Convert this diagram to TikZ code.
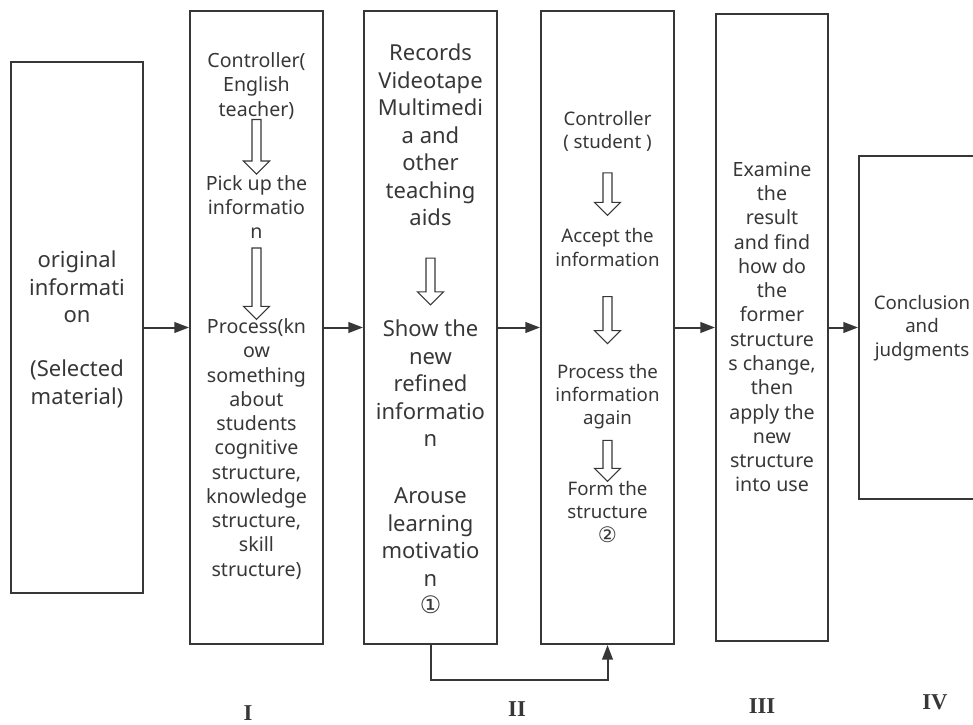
\documentclass[tikz,border=0pt]{standalone}
\usepackage{fontspec}
\setmainfont{Noto Sans}
\newfontfamily\numfont{Liberation Serif}
\newfontfamily\symfont{DejaVu Sans}
\usetikzlibrary{arrows.meta, calc, fit}

\definecolor{ink}{RGB}{55, 55, 55}

\tikzset{
	box/.style = {draw = ink, line width = 1.5pt, inner sep = 0pt},
	flow/.style = {draw = ink, line width = 1.5pt, -{Triangle[length = 11pt, width = 8pt]}},
	hollow/.style = {draw = ink, line width = 0.8pt, line join = miter},
	bigtext/.style = {text = ink, align = center, inner sep = 0pt, font = \fontsize{16.5}{20.6}\selectfont},
	midtext/.style = {text = ink, align = center, inner sep = 0pt, font = \fontsize{14.7}{18.2}\selectfont},
	smalltext/.style = {text = ink, align = center, inner sep = 0pt, font = \fontsize{14}{17.4}\selectfont},
	numlabel/.style = {text = ink, inner sep = 0pt, font = \numfont\bfseries\fontsize{17}{17}\selectfont}
}

% hollow block arrow from #1 down to #2, #3 and #4 push the ends down
\newcommand{\hollowarrow}[4]{%
	\path ($(#1) + (0, #3)$) coordinate (hs) ($(#2) + (0, #4)$) coordinate (ht);
	\draw [hollow] ($(hs) + (-4.5, 0)$) -- ($(ht) + (-4.5, -13)$) -- ($(ht) + (-13, -13)$) -- (ht)
		-- ($(ht) + (13, -13)$) -- ($(ht) + (4.5, -13)$) -- ($(hs) + (4.5, 0)$) -- cycle;
}

\begin{document}
\begin{tikzpicture}[x = 0.75pt, y = -0.75pt]

	% Frame

	\useasboundingbox (0, 0) rectangle (973, 724);
	\clip (0, 0) rectangle (973, 724);

	% Stage boxes

	\node [box, fit = {(11, 62) (143, 593)}] (orig) {};
	\node [box, fit = {(190, 11) (323, 644)}] (teach) {};
	\node [box, fit = {(364, 11) (497, 644)}] (media) {};
	\node [box, fit = {(541, 11) (674, 644)}] (learn) {};
	\node [box, fit = {(716, 14) (828, 641)}] (exam) {};
	\node [box, fit = {(859, 156) (990, 499)}] (concl) {};

	% Original information

	\node [bigtext] (origA) at (77, 287) {original\\informati\\on};
	\node [bigtext] (origB) at (77, 384) {(Selected\\material)};

	% Stage I

	\node [midtext] (ctrlA) at (256.5, 86) {Controller(\\English\\teacher)};
	\node [midtext] (pickA) at (256.5, 207) {Pick up the\\informatio\\n};
	\node [midtext] (procA) at (256.5, 449) {Process(kn\\ow\\something\\about\\students\\cognitive\\structure,\\knowledge\\structure,\\skill\\structure)};

	\hollowarrow{ctrlA.south}{pickA.north}{0}{-1}
	\hollowarrow{pickA.south}{procA.north}{9}{1}

	% Stage II, teaching aids

	\node [bigtext] (recB) at (430.5, 135) {Records\\Videotape\\Multimedi\\a and\\other\\teaching\\aids};
	\node [bigtext] (showB) at (430.5, 383.5) {Show the\\new\\refined\\informatio\\n};
	\node [bigtext] (arouseB) at (430.5, 551) {Arouse\\learning\\motivatio\\n\\{\symfont\fontsize{18}{20.6}\selectfont ①}};

	\hollowarrow{recB.south}{showB.north}{32}{-15}

	% Stage II, student side

	\node [smalltext] (ctrlC) at (607.5, 131.5) {Controller\\( student )};
	\node [smalltext] (acceptC) at (607.5, 247.5) {Accept the\\information};
	\node [smalltext] (procC) at (607.5, 396.5) {Process the\\information\\again};
	\node [smalltext] (formC) at (607.5, 512) {Form the\\structure\\{\symfont\fontsize{16}{17.4}\selectfont ②}};

	\hollowarrow{ctrlC.south}{acceptC.north}{21}{-13}
	\hollowarrow{acceptC.south}{procC.north}{30}{-20}
	\hollowarrow{procC.south}{formC.north}{11}{0}

	% Stage III

	\node [midtext] (examA) at (772, 327) {Examine\\the\\result\\and find\\how do\\the\\former\\structure\\s change,\\then\\apply the\\new\\structure\\into use};

	% Stage IV

	\node [smalltext] (conclA) at (922, 328) {Conclusion\\and\\judgments};

	% Flow between stages

	\draw [flow] (orig) -- (teach);
	\draw [flow] (teach) -- (media);
	\draw [flow] (media) -- (learn);
	\draw [flow] (learn) -- (exam);
	\draw [flow] (exam.east) -- (concl.west |- exam.east);
	\draw [flow] (media.south) -- ++ (0, 35) -| (learn.south);

	% Stage labels

	\node [numlabel] (numI) at (248, 713) {I};
	\node [numlabel] (numII) at (517, 709) {II};
	\node [numlabel] (numIII) at (762, 706) {III};
	\node [numlabel] (numIV) at (935, 702) {IV};

\end{tikzpicture}
\end{document}
